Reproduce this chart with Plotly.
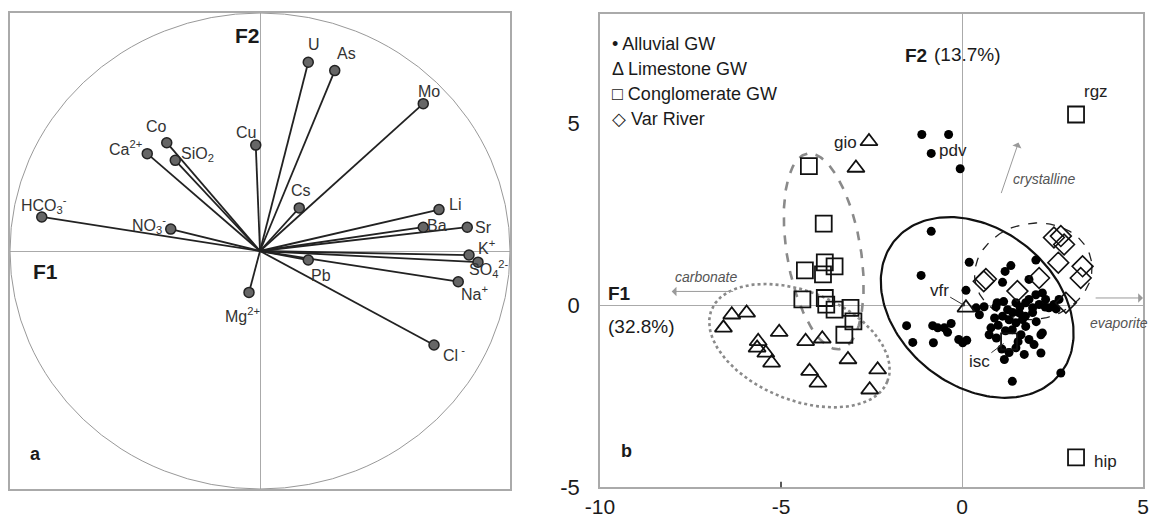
import numpy as np
import plotly.graph_objects as go

# ---------------- Panel a: loadings (correlation circle) ----------------
variables = ["U", "As", "Mo", "Cu", "Co", "Ca<sup>2+</sup>", "SiO<sub>2</sub>", "Cs",
             "HCO<sub>3</sub><sup>-</sup>", "NO<sub>3</sub><sup>-</sup>", "Li", "Ba", "Sr",
             "K<sup>+</sup>", "SO<sub>4</sub><sup>2-</sup>", "Na<sup>+</sup>", "Pb",
             "Mg<sup>2+</sup>", "Cl<sup> -</sup>"]
load_f1 = [0.193, 0.299, 0.653, -0.017, -0.373, -0.451, -0.339, 0.157, -0.873, -0.357,
           0.716, 0.653, 0.829, 0.836, 0.872, 0.793, 0.193, -0.044, 0.696]
load_f2 = [0.793, 0.758, 0.619, 0.445, 0.455, 0.409, 0.381, 0.181, 0.143, 0.092,
           0.174, 0.100, 0.100, -0.017, -0.047, -0.129, -0.038, -0.174, -0.395]
# label offsets (pixels) relative to each point
label_dx = [6, 12, 6, -10, -10, -22, 22, 2, 2, -22, 16, 14, 16, 17, 11, 16, 13, -7, 20]
label_dy = [18, 17, 12, 13, 16, 6, 6, 17, 12, 4, 5, 2, 0, 8, -7, -11, -15, -23, -9]

# ---------------- Panel b: scores ----------------
alluvial_x = [-1.11, -0.37, -0.85, -0.05, -0.85, -1.13, 0.20, 0.11, 1.35, 1.19, 1.12, 2.04, 1.85,
              0.39, 0.61, 0.48, 0.94, -1.53, -1.36, -0.81, -0.67, -0.49, -0.30, -0.40, -0.79,
              -0.09, 0.13, 0.02, 0.80, 0.75, 1.12, 1.26, 1.49, 1.58, 1.67, 1.49, 1.76, 1.95,
              2.13, 2.31, 2.40, 2.54, 2.22, 2.04, 1.85, 2.68, 1.39, 1.63, 1.76, 1.85, 1.99,
              2.18, 2.22, 1.49, 1.72, 1.17, 2.18, 1.39, 2.73, 0.90, 1.00, 1.20, 1.30, 1.40,
              1.60, 1.75, 1.95, 2.05, 1.10, 1.30, 1.55, 0.95, 0.97, 1.15, 2.30, 2.60]
alluvial_y = [4.69, 4.69, 4.17, 3.75, 2.03, 0.82, 1.18, 0.41, 1.09, 0.93, 0.63, 1.24, 0.71,
              -0.07, -0.04, -0.26, -0.04, -0.56, -1.02, -0.56, -0.62, -0.62, -0.50, -0.74, -1.03,
              -0.94, -0.96, -1.03, -0.62, -0.81, -0.30, -0.12, 0.07, -0.21, -0.39, -0.48, 0.07, -0.07,
              0.02, 0.16, -0.07, 0.02, 0.34, 0.29, 0.16, 0.16, -0.67, -0.81, -0.58, -0.94, -1.08,
              -0.81, -0.76, -1.17, -1.35, -1.49, -1.31, -2.09, -1.86, -0.35, -0.55, -0.70, -0.40, -0.20,
              -0.05, -0.30, -0.20, -0.45, -1.20, -1.30, -1.00, -0.90, 0.07, 0.10, -0.05, -0.10]

limestone_x = [-2.57, -2.93, -6.36, -5.95, -6.59, -5.63, -5.05, -5.42, -5.26, -5.66, -4.32,
               -3.86, -4.21, -3.98, -3.15, -2.33, -2.55, 0.11]
limestone_y = [4.50, 3.77, -0.26, -0.21, -0.62, -0.99, -0.74, -1.31, -1.58, -1.17, -0.99,
               -0.92, -1.81, -2.13, -1.49, -1.77, -2.32, -0.07]

conglomerate_x = [-4.23, -3.82, -4.34, -3.79, -3.52, -3.84, -4.41, -3.79, -3.75, -3.52,
                  -3.08, -3.00, -3.25, 3.15, 1.30, 3.15]
conglomerate_y = [3.82, 2.24, 0.96, 1.18, 1.07, 0.85, 0.16, 0.20, 0.02, -0.12,
                  -0.07, -0.44, -0.81, 5.24, -0.99, -4.18]

var_x = [0.66, 0.60, 1.53, 2.13, 2.66, 2.54, 2.73, 2.82, 3.33, 3.28, 2.87]
var_y = [0.72, 0.66, 0.39, 0.75, 1.17, 1.86, 1.90, 1.67, 1.07, 0.75, 0.07]

legend_symbols = ["\u2022", "\u0394", "\u25A1", "\u25C7"]
legend_names = ["Alluvial GW", "Limestone GW", "Conglomerate GW", "Var River"]

x_ticks = [-10, -5, 0, 5]
x_ticktext = ["-10", "-5", "0", "5"]
y_ticks = [-5, 0, 5]
y_ticktext = ["-5", "0", "5"]

# confidence ellipses: centre x, centre y, semi-major, semi-minor, angle (deg)
ell_alluvial = (0.42, -0.06, 2.93, 2.16, -38.1)
ell_var = (1.97, 0.93, 1.63, 1.32, 10.0)
ell_conglo = (-3.82, 1.48, 2.72, 1.02, 99.6)
ell_lime = (-4.49, -1.11, 2.62, 1.49, -22.0)

FONT = "Arial, Liberation Sans, sans-serif"
DARK = "#1a1a1a"
GRAY = "#9a9a9a"


def ellipse(params, n=200):
    cx, cy, a, b, ang = params
    t = np.linspace(0, 2 * np.pi, n)
    th = np.deg2rad(ang)
    x = cx + a * np.cos(t) * np.cos(th) - b * np.sin(t) * np.sin(th)
    y = cy + a * np.cos(t) * np.sin(th) + b * np.sin(t) * np.cos(th)
    return x, y


fig = go.Figure()
ann = []

# --- panel a vectors ---
lx, ly = [], []
for a, b in zip(load_f1, load_f2):
    lx += [0, a, None]
    ly += [0, b, None]
fig.add_trace(go.Scatter(x=lx, y=ly, mode="lines", line=dict(color="#222", width=1.8),
                         showlegend=False, hoverinfo="skip", xaxis="x", yaxis="y"))
fig.add_trace(go.Scatter(x=load_f1, y=load_f2, mode="markers",
                         marker=dict(size=10, color="#666", line=dict(color="#222", width=1.5)),
                         text=variables, showlegend=False, xaxis="x", yaxis="y"))
for name, a, b, dx, dy in zip(variables, load_f1, load_f2, label_dx, label_dy):
    ann.append(dict(x=a, y=b, xref="x", yref="y", text=name, showarrow=False,
                    xshift=dx, yshift=dy, font=dict(family=FONT, size=16, color="#333")))

# --- panel b ellipses ---
for params, style in [(ell_alluvial, dict(color="#111", width=2.2, dash="solid")),
                      (ell_var, dict(color="#222", width=1.3, dash="dash")),
                      (ell_conglo, dict(color="#8a8a8a", width=2.6, dash="dash")),
                      (ell_lime, dict(color="#8a8a8a", width=2.6, dash="dot"))]:
    ex, ey = ellipse(params)
    fig.add_trace(go.Scatter(x=ex, y=ey, mode="lines", line=style, showlegend=False,
                             hoverinfo="skip", xaxis="x2", yaxis="y2"))

# --- panel b points ---
fig.add_trace(go.Scatter(x=alluvial_x, y=alluvial_y, mode="markers", name="Alluvial GW",
                         marker=dict(symbol="circle", size=9, color="#000"),
                         showlegend=False, xaxis="x2", yaxis="y2"))
fig.add_trace(go.Scatter(x=limestone_x, y=limestone_y, mode="markers", name="Limestone GW",
                         marker=dict(symbol="triangle-up-open", size=15, color="#111",
                                     line=dict(width=1.8)),
                         showlegend=False, xaxis="x2", yaxis="y2"))
fig.add_trace(go.Scatter(x=conglomerate_x, y=conglomerate_y, mode="markers", name="Conglomerate GW",
                         marker=dict(symbol="square-open", size=16, color="#111",
                                     line=dict(width=1.8)),
                         showlegend=False, xaxis="x2", yaxis="y2"))
fig.add_trace(go.Scatter(x=var_x, y=var_y, mode="markers", name="Var River",
                         marker=dict(symbol="diamond-open", size=16, color="#111",
                                     line=dict(width=1.6)),
                         showlegend=False, xaxis="x2", yaxis="y2"))

# legend drawn as text
for i, (sym, nm) in enumerate(zip(legend_symbols, legend_names)):
    ann.append(dict(x=610 / 1152, y=1 - (32 + 25 * i) / 520, xref="paper", yref="paper",
                    xanchor="left", text=sym + " " + nm, showarrow=False,
                    font=dict(family=FONT, size=18, color=DARK)))

# panel a captions
ann.append(dict(x=233 / 1152, y=1 - 22 / 520, xref="paper", yref="paper", text="<b>F2</b>",
                showarrow=False, font=dict(family=FONT, size=21, color=DARK)))
ann.append(dict(x=31 / 1152, y=1 - 271 / 520, xref="paper", yref="paper", text="<b>F1</b>",
                showarrow=False, font=dict(family=FONT, size=21, color=DARK)))
ann.append(dict(x=28 / 1152, y=1 - 466 / 520, xref="paper", yref="paper", text="<b>a</b>",
                showarrow=False, font=dict(family=FONT, size=18, color=DARK)))
# panel b captions
ann.append(dict(x=929 / 1152, y=1 - 43 / 520, xref="paper", yref="paper", text="<b>F2</b>",
                showarrow=False, font=dict(family=FONT, size=19, color=DARK)))
ann.append(dict(x=1003 / 1152, y=1 - 42 / 520, xref="paper", yref="paper", text="(13.7%)",
                showarrow=False, font=dict(family=FONT, size=19, color=DARK)))
ann.append(dict(x=619 / 1152, y=1 - 293 / 520, xref="paper", yref="paper", text="<b>F1</b>",
                showarrow=False, font=dict(family=FONT, size=19, color=DARK)))
ann.append(dict(x=641 / 1152, y=1 - 326 / 520, xref="paper", yref="paper", text="(32.8%)",
                showarrow=False, font=dict(family=FONT, size=19, color=DARK)))
ann.append(dict(x=626 / 1152, y=1 - 463 / 520, xref="paper", yref="paper", text="<b>b</b>",
                showarrow=False, font=dict(family=FONT, size=18, color=DARK)))

# direction arrows
for (hx, hy, tx, ty) in [(-8.02, 0.38, -6.28, 0.38), (5.0, 0.2, 3.65, 0.2), (1.56, 4.47, 1.07, 3.04)]:
    ann.append(dict(x=hx, y=hy, ax=tx, ay=ty, xref="x2", yref="y2", axref="x2", ayref="y2",
                    text="", showarrow=True, arrowhead=1, arrowsize=1.6, arrowwidth=1,
                    arrowcolor=GRAY))
ann.append(dict(x=-7.07, y=0.79, xref="x2", yref="y2", text="<i>carbonate</i>", showarrow=False,
                font=dict(family=FONT, size=14, color="#555")))
ann.append(dict(x=4.34, y=-0.48, xref="x2", yref="y2", text="<i>evaporite</i>", showarrow=False,
                font=dict(family=FONT, size=14, color="#555")))
ann.append(dict(x=1.36, y=3.46, xref="x2", yref="y2", text="<i>crystalline</i>", showarrow=False,
                xanchor="left", font=dict(family=FONT, size=14, color="#555")))

# sample labels
lab_font = dict(family=FONT, size=17, color="#222")
ann.append(dict(x=0.09, y=-0.02, ax=-0.63, ay=0.40, xref="x2", yref="y2", axref="x2", ayref="y2",
                text="vfr", showarrow=True, arrowhead=1, arrowsize=0.8, arrowwidth=1,
                arrowcolor="#333", font=lab_font))
ann.append(dict(x=1.15, y=-1.05, ax=0.48, ay=-1.55, xref="x2", yref="y2", axref="x2", ayref="y2",
                text="isc", showarrow=True, arrowhead=0, arrowwidth=1,
                arrowcolor="#333", font=lab_font))
ann.append(dict(x=-0.70, y=4.26, xref="x2", yref="y2", text="pdv", showarrow=False,
                xanchor="left", font=lab_font))
ann.append(dict(x=-2.84, y=4.48, xref="x2", yref="y2", text="gio", showarrow=False,
                xanchor="right", font=lab_font))
ann.append(dict(x=3.70, y=5.88, xref="x2", yref="y2", text="rgz", showarrow=False, font=lab_font))
ann.append(dict(x=3.58, y=-4.28, xref="x2", yref="y2", text="hip", showarrow=False,
                xanchor="left", font=lab_font))

shapes = [
    dict(type="circle", xref="x", yref="y", x0=-1, y0=-1, x1=1, y1=1,
         line=dict(color="#999", width=1)),
    dict(type="line", xref="x2", yref="y2", x0=-5, x1=-5, y0=-5.15, y1=-4.85,
         line=dict(color="#222", width=1.5)),
    dict(type="line", xref="x2", yref="y2", x0=-10.35, x1=-10.1, y0=5, y1=5,
         line=dict(color="#222", width=1.5)),
]

fig.update_layout(
    width=1152, height=520, margin=dict(l=0, r=0, t=0, b=0, autoexpand=False),
    paper_bgcolor="white", plot_bgcolor="white",
    font=dict(family=FONT, color=DARK),
    showlegend=False,
    xaxis=dict(domain=[10 / 1152, 510 / 1152], range=[-1, 1], showgrid=False, zeroline=True,
               zerolinecolor="#aaa", zerolinewidth=1, showticklabels=False, ticks="",
               showline=True, mirror=True, linecolor="#aaa", linewidth=1.5, automargin=False),
    yaxis=dict(domain=[31 / 520, 507 / 520], range=[-1, 1], showgrid=False, zeroline=True,
               zerolinecolor="#aaa", zerolinewidth=1, showticklabels=False, ticks="",
               showline=True, mirror=True, linecolor="#aaa", linewidth=1.5, automargin=False),
    xaxis2=dict(domain=[600 / 1152, 1143 / 1152], range=[-10, 5], showgrid=False, zeroline=True,
                zerolinecolor="#aaa", zerolinewidth=1, tickvals=x_ticks, ticktext=x_ticktext,
                ticks="", tickfont=dict(family=FONT, size=21, color=DARK), ticklabelstandoff=0,
                showline=True, mirror=True, linecolor="#aaa", linewidth=1.5, anchor="y2",
                automargin=False),
    yaxis2=dict(domain=[(520 - 487.3) / 520, (520 - 14) / 520], range=[-5, 8], showgrid=False,
                zeroline=True, zerolinecolor="#aaa", zerolinewidth=1, tickvals=y_ticks,
                ticktext=y_ticktext, ticks="", tickfont=dict(family=FONT, size=22, color=DARK),
                ticklabelstandoff=14, showline=True, mirror=True, linecolor="#aaa", linewidth=1.5,
                anchor="x2", automargin=False),
    annotations=ann,
    shapes=shapes,
)

fig.write_html("out.html", config={"displayModeBar": False},
               post_script="document.body.style.margin='0px';document.body.style.overflow='hidden';")
